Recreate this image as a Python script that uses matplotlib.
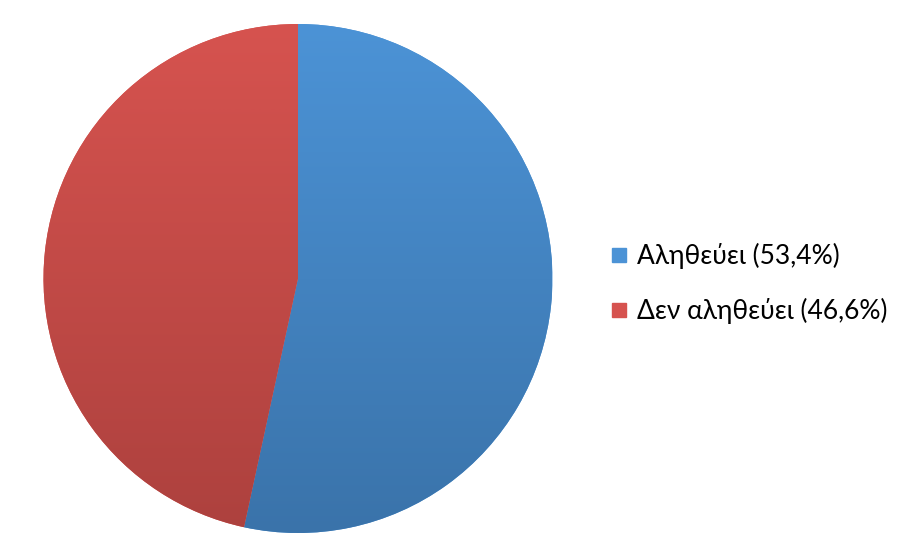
import numpy as np
import matplotlib
matplotlib.use("Agg")
import matplotlib.pyplot as plt
from matplotlib.lines import Line2D
from matplotlib.colors import LinearSegmentedColormap

plt.rcParams['font.family'] = ['Lato', 'DejaVu Sans']

## DATA
labels = ['Αληθεύει (53,4%)', 'Δεν αληθεύει (46,6%)']
values = [53.4, 46.6]
top_colors = ['#4c93d6', '#d6534f']
bottom_colors = ['#3a73aa', '#ad413e']

W, H = 912, 554
fig = plt.figure(figsize=(W / 100, H / 100), dpi=100)
ax = fig.add_axes([0, 0, 1, 1])
ax.set_xlim(0, W)
ax.set_ylim(0, H)
ax.set_aspect('equal')
ax.axis('off')

cx, cy, r = 298, H - 278.5, 254.5

wedges, _ = ax.pie(values, center=(cx, cy), radius=r, startangle=90,
                   counterclock=False, colors=top_colors,
                   wedgeprops=dict(linewidth=0))

# vertical gradient inside each slice
grad = np.linspace(0, 1, 256).reshape(-1, 1)
for w, c1, c2 in zip(wedges, top_colors, bottom_colors):
    cmap = LinearSegmentedColormap.from_list('g', [c2, c1])
    im = ax.imshow(grad, cmap=cmap, origin='lower', aspect='auto',
                   extent=(cx - r, cx + r, cy - r, cy + r), zorder=2)
    im.set_clip_path(w)
ax.set_xlim(0, W)
ax.set_ylim(0, H)

handles = [Line2D([], [], linestyle='none', marker='s', markersize=10.5,
                  markerfacecolor=c, markeredgecolor=c) for c in top_colors]
fig.legend(handles, labels, loc='upper left', bbox_to_anchor=(596 / W, 1 - 230 / H),
           frameon=False, fontsize=19, handlelength=0.75, handletextpad=0.3,
           labelspacing=1.1, borderpad=0)

fig.savefig('out.png', dpi=100)
